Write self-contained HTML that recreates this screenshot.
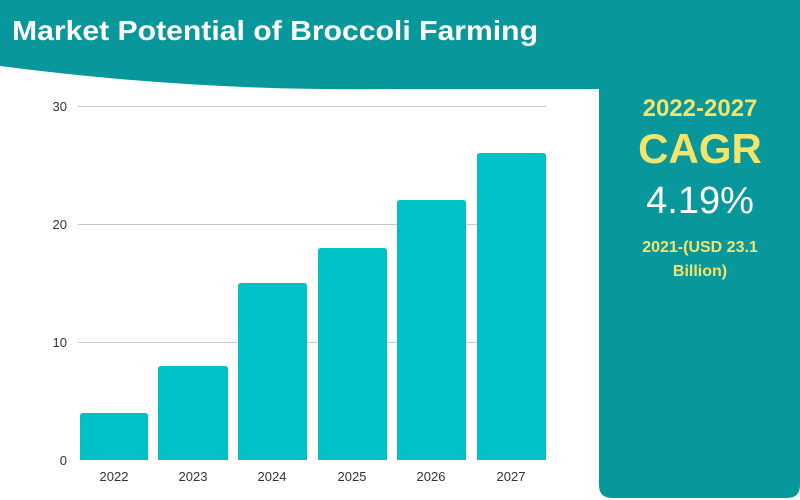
<!DOCTYPE html>
<html><head><style>
body{margin:0;width:800px;height:500px;overflow:hidden;background:#fff;font-family:"Liberation Sans",sans-serif;position:relative}
.t{position:absolute;white-space:nowrap}
</style></head><body>
<svg width="800" height="500" style="position:absolute;left:0;top:0">
<path d="M0 0 H800 V485 Q800 498 787 498 H612 Q599 498 599 485 V89 H395 Q200 92 0 66 Z" fill="#08979a"/>
<g stroke="#c8c8c8" stroke-width="1">
<line x1="78" y1="106.5" x2="546" y2="106.5"/>
<line x1="78" y1="224.5" x2="546" y2="224.5"/>
<line x1="78" y1="342.5" x2="546" y2="342.5"/>
</g>
<g fill="#00c1c8">
<path d="M80 460V416q0-3 3-3h62q3 0 3 3V460Z"/>
<path d="M158 460V369q0-3 3-3h64q3 0 3 3V460Z"/>
<path d="M238 460V286q0-3 3-3h63q3 0 3 3V460Z"/>
<path d="M318 460V251q0-3 3-3h63q3 0 3 3V460Z"/>
<path d="M397 460V203q0-3 3-3h63q3 0 3 3V460Z"/>
<path d="M477 460V156q0-3 3-3h63q3 0 3 3V460Z"/>
</g>
<g font-family="Liberation Sans" font-size="13" fill="#333" text-anchor="end">
<text x="67" y="111">30</text><text x="67" y="229">20</text><text x="67" y="347">10</text><text x="67" y="465">0</text>
</g>
<g font-family="Liberation Sans" font-size="13" fill="#333" text-anchor="middle">
<text x="114" y="481">2022</text><text x="193" y="481">2023</text><text x="272" y="481">2024</text>
<text x="352" y="481">2025</text><text x="431" y="481">2026</text><text x="511" y="481">2027</text>
</g>
<text x="12" y="40" font-family="Liberation Sans" font-weight="bold" font-size="28" fill="#fff" textLength="526" lengthAdjust="spacingAndGlyphs">Market Potential of Broccoli Farming</text>
<g text-anchor="middle" font-family="Liberation Sans">
<text x="700" y="116" font-size="24" font-weight="bold" fill="#f3e46c">2022-2027</text>
<text x="700" y="163" font-size="42" font-weight="bold" fill="#f3e46c">CAGR</text>
<text x="700" y="213" font-size="38" fill="#fff">4.19%</text>
<text x="700" y="252" font-size="16" font-weight="bold" fill="#f3e46c">2021-(USD 23.1</text>
<text x="700" y="276" font-size="16" font-weight="bold" fill="#f3e46c">Billion)</text>
</g>
</svg>
</body></html>
